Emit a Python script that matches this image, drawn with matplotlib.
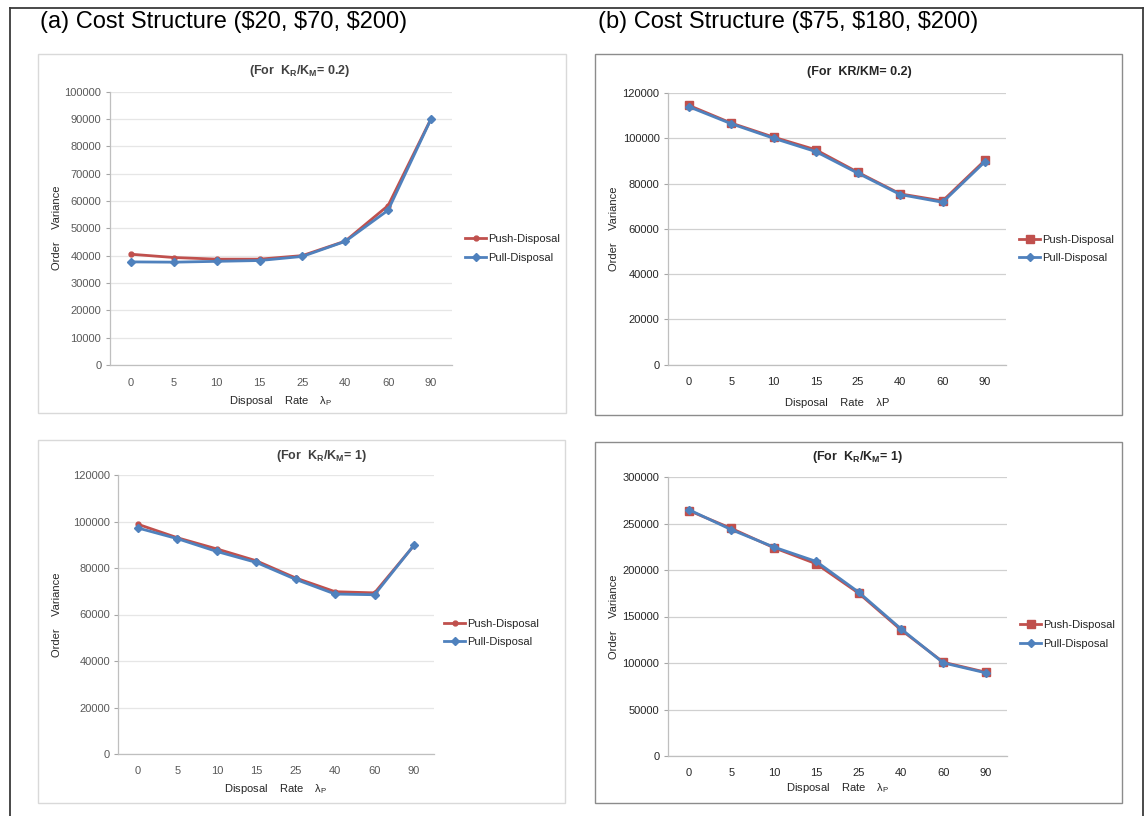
import numpy as np
import matplotlib
matplotlib.use("Agg")
import matplotlib.pyplot as plt
from matplotlib.patches import Rectangle
from matplotlib.lines import Line2D

plt.rcParams['font.family'] = ['Liberation Sans', 'DejaVu Sans']
plt.rcParams['mathtext.fontset'] = 'custom'
plt.rcParams['mathtext.rm'] = 'Liberation Sans'
plt.rcParams['mathtext.bf'] = 'Liberation Sans:bold'

# disposal rate categories
rates = ['0', '5', '10', '15', '25', '40', '60', '90']

# (a) cost structure, KR/KM = 0.2
a1_push = [40500, 39300, 38700, 38700, 40000, 45300, 58300, 90000]
a1_pull = [37700, 37600, 37900, 38200, 39700, 45200, 56600, 89900]
# (b) cost structure, KR/KM = 0.2
b1_push = [114500, 106700, 100500, 94900, 84900, 75400, 72300, 90200]
b1_pull = [113900, 106400, 100000, 94100, 84500, 75100, 71700, 89600]
# (a) cost structure, KR/KM = 1
a2_push = [98800, 93000, 88200, 83100, 75700, 69800, 69300, 89700]
a2_pull = [97200, 92600, 87100, 82400, 75100, 68800, 68500, 89800]
# (b) cost structure, KR/KM = 1
b2_push = [263800, 244700, 224000, 206700, 175100, 135600, 100800, 90100]
b2_pull = [264800, 243300, 224700, 209200, 176200, 136700, 100100, 89400]

W, H = 1146, 816
RED = '#C0504D'
BLUE = '#4F81BD'

fig = plt.figure(figsize=(W / 100, H / 100), dpi=100)


def fx(x):
    return x / W


def fy(y):
    return 1 - y / H


def box(l, t, r, b, color, lw=1.0):
    fig.add_artist(Rectangle((fx(l), fy(b)), fx(r - l), (b - t) / H,
                             transform=fig.transFigure, fill=False,
                             edgecolor=color, linewidth=lw))


def panel(l, t, r, b, push, pull, ymax, ystep, title, xlab, push_marker,
          legend_x, legend_y, title_x, title_y, xlab_y, ylab_x, txt, grid):
    ax = fig.add_axes([fx(l), fy(b), fx(r - l), (b - t) / H])
    x = np.arange(len(rates))
    if push_marker == 's':
        ax.plot(x, push, color=RED, lw=2, marker='s', ms=5.5, zorder=3,
                label='Push-Disposal')
    else:
        ax.plot(x, push, color=RED, lw=2, marker='o', ms=3.5, zorder=3,
                label='Push-Disposal')
    ax.plot(x, pull, color=BLUE, lw=2, marker='D', ms=4.5, zorder=4,
            label='Pull-Disposal')
    ax.set_xlim(-0.5, len(rates) - 0.5)
    ax.set_ylim(0, ymax)
    ax.set_yticks(np.arange(0, ymax + 1, ystep))
    ax.set_xticks(x)
    ax.set_xticklabels(rates)
    ax.tick_params(axis='x', length=0, pad=9, labelsize=8, labelcolor=txt)
    ax.tick_params(axis='y', length=3, color='#A6A6A6', pad=3, labelsize=8,
                   labelcolor=txt)
    ax.grid(axis='y', color=grid, lw=0.9)
    ax.set_axisbelow(True)
    for s in ['top', 'right']:
        ax.spines[s].set_visible(False)
    ax.spines['left'].set_color('#BFBFBF')
    ax.spines['bottom'].set_color('#BFBFBF')
    ax.spines['left'].set_linewidth(0.9)
    ax.spines['bottom'].set_linewidth(0.9)
    ax.legend(loc='center left', bbox_to_anchor=(fx(legend_x), fy(legend_y)),
              bbox_transform=fig.transFigure, frameon=False, fontsize=8,
              handlelength=1.9, handletextpad=0.15, labelspacing=0.75,
              borderpad=0, borderaxespad=0, labelcolor='#262626')
    fig.text(fx(title_x), fy(title_y), title, ha='center', va='center',
             fontsize=9, fontweight='bold',
             color=txt if txt != '#595959' else '#404040')
    fig.text(fx((l + r) / 2), fy(xlab_y), xlab, ha='center', va='center',
             fontsize=8, color='#262626')
    fig.text(fx(ylab_x), fy((t + b) / 2), 'Order    Variance', rotation=90,
             ha='center', va='center', fontsize=8, color='#262626')
    return ax


# outer frame
fig.add_artist(Line2D([fx(10), fx(10)], [0, fy(8)], transform=fig.transFigure,
                      color='#3a3a3a', lw=1.3))
fig.add_artist(Line2D([fx(10), fx(1143)], [fy(8), fy(8)],
                      transform=fig.transFigure, color='#3a3a3a', lw=1.3))
fig.add_artist(Line2D([fx(1143), fx(1143)], [0, fy(8)],
                      transform=fig.transFigure, color='#3a3a3a', lw=1.3))

fig.text(fx(40), fy(22), '(a) Cost Structure ($20, $70, $200)', fontsize=17,
         ha='left', va='center', color='black')
fig.text(fx(598), fy(22), '(b) Cost Structure ($75, $180, $200)', fontsize=17,
         ha='left', va='center', color='black')

# panel frames
box(38, 54, 566, 413, '#D9D9D9')
box(595, 54, 1122, 415, '#8C8C8C')
box(38, 440, 565, 803, '#D9D9D9')
box(595, 442, 1122, 803, '#8C8C8C')

lam = 'Disposal    Rate    λ$_\\mathregular{P}$'
kk = r'$\mathbf{K_R/K_M}$'

panel(109.6, 91.5, 452.4, 365, a1_push, a1_pull, 100000, 10000,
      '(For  ' + kk + '= 0.2)', lam, 'o',
      465, 248.5, 300, 71, 401, 57, '#595959', '#E6E6E6')
panel(667.9, 93, 1006, 364.5, b1_push, b1_pull, 120000, 20000,
      '(For  KR/KM= 0.2)', 'Disposal    Rate    λP', 's',
      1019, 249, 859, 72, 403, 614, '#262626', '#D0D0D0')
panel(118.3, 475, 433.7, 754, a2_push, a2_pull, 120000, 20000,
      '(For  ' + kk + '= 1)', lam, 'o',
      444, 633, 321, 456, 789, 57, '#595959', '#E6E6E6')
panel(667.8, 477, 1007, 756, b2_push, b2_pull, 300000, 50000,
      '(For  ' + kk + '= 1)', lam, 's',
      1020, 634.5, 857, 457, 788, 614, '#262626', '#D0D0D0')

fig.savefig('out.png', dpi=100)
